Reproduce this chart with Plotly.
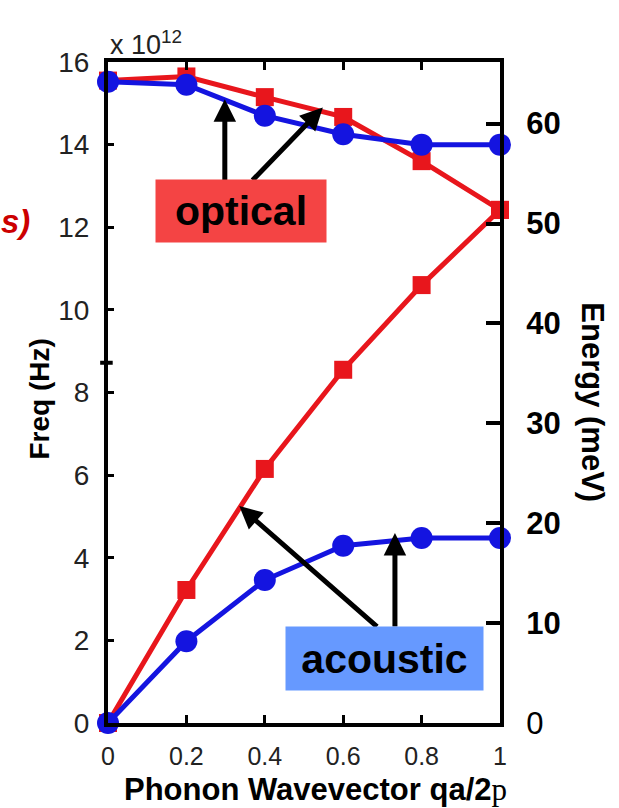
import plotly.graph_objects as go

# Data (frequency in units of 1e12 Hz)
q = [0, 0.2, 0.4, 0.6, 0.8, 1.0]
red_optical = [15.55, 15.65, 15.15, 14.67, 13.6, 12.42]
red_acoustic = [0, 3.22, 6.15, 8.55, 10.6, 12.42]
blue_optical = [15.52, 15.45, 14.7, 14.25, 14.0, 14.0]
blue_acoustic = [0, 1.98, 3.46, 4.29, 4.48, 4.48]

freq_ticks = [0, 2, 4, 6, 8, 10, 12, 14, 16]
energy_ticks = [0, 10, 20, 30, 40, 50, 60]
x_ticks = [0, 0.2, 0.4, 0.6, 0.8, 1]
x_ticklabels = ["0", "0.2", "0.4", "0.6", "0.8", "1"]
HZ_TO_MEV = 4.13567  # meV per 1e12 Hz

RED = "#e8161c"
BLUE = "#1414e0"
FONT = "Liberation Sans, Arial, sans-serif"

fig = go.Figure()
for ys, color, sym, size in [
    (red_optical, RED, "square", 18),
    (red_acoustic, RED, "square", 18),
    (blue_optical, BLUE, "circle", 22),
    (blue_acoustic, BLUE, "circle", 22),
]:
    fig.add_trace(go.Scatter(
        x=q, y=ys, mode="lines+markers",
        line=dict(color=color, width=5),
        marker=dict(symbol=sym, size=size, color=color, line=dict(width=0)),
        showlegend=False, cliponaxis=False,
    ))

fig.update_layout(
    width=619, height=808,
    margin=dict(l=108, r=119, t=62, b=85),
    plot_bgcolor="white", paper_bgcolor="white",
    font=dict(family=FONT, color="#111"),
    xaxis=dict(
        range=[0, 1], tickvals=x_ticks, ticktext=x_ticklabels,
        showline=True, linecolor="black", linewidth=4, mirror="ticks",
        ticks="inside", ticklen=8, tickwidth=3, tickcolor="black",
        showgrid=False, zeroline=False,
        tickfont=dict(size=25, color="#222"), ticklabelstandoff=8,
    ),
    yaxis=dict(
        range=[0, 16], tickvals=freq_ticks,
        showline=True, linecolor="black", linewidth=4, mirror=False,
        ticks="inside", ticklen=6, tickwidth=3, tickcolor="black",
        showgrid=False, zeroline=False,
        tickfont=dict(size=28, color="#222"), ticklabelstandoff=9,
    ),
    yaxis2=dict(
        overlaying="y", side="right", range=[0, 16 * HZ_TO_MEV],
        tickvals=energy_ticks,
        ticktext=["0"] + ["<b>%d</b>" % v for v in energy_ticks[1:]],
        showline=True, linecolor="black", linewidth=4,
        ticks="inside", ticklen=14, tickwidth=4, tickcolor="black",
        showgrid=False, zeroline=False,
        tickfont=dict(size=31, color="black"), ticklabelstandoff=16,
    ),
)

# invisible trace to activate the energy axis
fig.add_trace(go.Scatter(x=[q[0]], y=[0], yaxis="y2", mode="markers",
                         marker=dict(opacity=0), showlegend=False, hoverinfo="skip"))

ann = []
# arrows (drawn first, boxes on top)
arrows = [
    ((0.298, 15.1), (0.298, 13.1)),
    ((0.548, 14.9), (0.365, 13.1)),
    ((0.732, 4.6), (0.732, 2.3)),
    ((0.335, 5.25), (0.69, 2.3)),
]
for (tx, ty), (ax, ay) in arrows:
    ann.append(dict(x=tx, y=ty, ax=ax, ay=ay, xref="x", yref="y", axref="x", ayref="y",
                    showarrow=True, arrowhead=2, arrowsize=0.9, arrowwidth=5,
                    arrowcolor="black", text=""))
# label boxes
ann.append(dict(x=0.339, y=0.7746, xref="paper", yref="paper", text="<b>optical</b>",
                xanchor="center", yanchor="middle",
                showarrow=False, font=dict(size=41, color="black", family=FONT),
                bgcolor="#f44444", width=170, height=62, borderpad=0))
ann.append(dict(x=0.7066, y=0.0976, xref="paper", yref="paper", text="<b>acoustic</b>",
                xanchor="center", yanchor="middle",
                showarrow=False, font=dict(size=41, color="black", family=FONT),
                bgcolor="#6699ff", width=197, height=63, borderpad=0))
# titles
ann.append(dict(x=-0.175, y=0.49, xref="paper", yref="paper", text="<b>Freq (Hz)</b>",
                xanchor="center", yanchor="middle",
                textangle=-90, showarrow=False, font=dict(size=28, color="black")))
ann.append(dict(x=1.235, y=0.485, xref="paper", yref="paper", text="<b>Energy (meV)</b>",
                xanchor="center", yanchor="middle",
                textangle=90, showarrow=False, font=dict(size=31, color="black")))
ann.append(dict(x=0.53, y=-0.1, xref="paper", yref="paper",
                text="<b>Phonon Wavevector qa/2</b><span style=\"font-family:'Liberation Serif',serif\">p</span>",
                xanchor="center", yanchor="middle",
                showarrow=False, font=dict(size=31, color="black")))
ann.append(dict(x=0.0, y=1.0, xref="paper", yref="paper", text="x 10<sup>12</sup>",
                xanchor="left", yanchor="bottom", showarrow=False,
                font=dict(size=27, color="#222")))
ann.append(dict(x=-0.278, y=0.758, xref="paper", yref="paper", text="<b><i>s)</i></b>",
                xanchor="left", yanchor="middle", showarrow=False,
                font=dict(size=33, color="#cc0000")))
fig.update_layout(annotations=ann)

# small stray dash on the left axis
fig.add_shape(type="line", xref="paper", yref="paper", x0=-0.02, x1=0.012,
              y0=0.545, y1=0.545, line=dict(color="black", width=4))

fig.write_html("out.html")
